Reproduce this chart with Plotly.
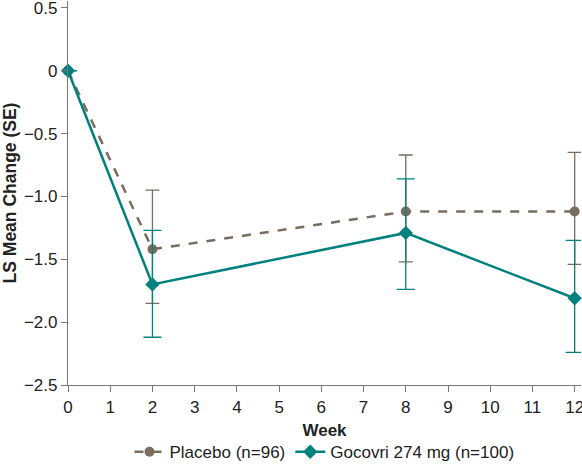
import plotly.graph_objects as go

weeks = [0, 2, 8, 12]
placebo = [0, -1.42, -1.12, -1.12]
placebo_err_plus = [None, 0.47, 0.45, 0.47]
placebo_err_minus = [None, 0.43, 0.40, 0.42]
gocovri = [0, -1.70, -1.29, -1.81]
gocovri_err_plus = [None, 0.43, 0.43, 0.46]
gocovri_err_minus = [None, 0.42, 0.45, 0.43]
y_tickvals = [0.5, 0, -0.5, -1.0, -1.5, -2.0, -2.5]
y_ticktext = ["0.5", "0", "\u22120.5", "\u22121.0", "\u22121.5", "\u22122.0", "\u22122.5"]
x_tickvals = list(range(0, 13))

PLACEBO_C = "#7a6c5f"
GOC_C = "#00817e"
FONT = "Liberation Sans, Arial, Helvetica, sans-serif"

fig = go.Figure()
fig.add_trace(go.Scatter(
    x=weeks, y=placebo, name="Placebo (n=96)", mode="lines+markers",
    line=dict(color=PLACEBO_C, width=2.5, dash="dash"),
    marker=dict(symbol="circle", size=10, color=PLACEBO_C),
    error_y=dict(type="data", symmetric=False, array=placebo_err_plus,
                 arrayminus=placebo_err_minus, color=PLACEBO_C, thickness=1.3, width=7),
    cliponaxis=False,
))
fig.add_trace(go.Scatter(
    x=weeks, y=gocovri, name="Gocovri 274 mg (n=100)", mode="lines+markers",
    line=dict(color=GOC_C, width=2.5),
    marker=dict(symbol="diamond", size=11, color=GOC_C),
    error_y=dict(type="data", symmetric=False, array=gocovri_err_plus,
                 arrayminus=gocovri_err_minus, color=GOC_C, thickness=1.3, width=9),
    cliponaxis=False,
))

fig.update_layout(
    width=582, height=466,
    margin=dict(l=68, r=1, t=1, b=81, autoexpand=False),
    paper_bgcolor="white", plot_bgcolor="white",
    font=dict(family=FONT, size=17, color="#222222"),
    showlegend=True,
    legend=dict(orientation="h", x=0.5, xanchor="center", y=-0.175, yanchor="middle",
                font=dict(size=17), tracegroupgap=0),
)
fig.update_xaxes(
    range=[0, 12.15], tickvals=x_tickvals, showgrid=False, zeroline=False,
    showline=True, linecolor="#777777", linewidth=1.3, automargin=False,
    ticks="outside", ticklen=6, tickcolor="#777777", ticklabeloverflow="allow",
    tickfont=dict(size=17),
    title=dict(text="<b>Week</b>", font=dict(size=17), standoff=8),
)
fig.update_yaxes(
    range=[-2.5, 0.555], tickvals=y_tickvals, ticktext=y_ticktext,
    showgrid=False, zeroline=False, automargin=False,
    showline=True, linecolor="#777777", linewidth=1.3,
    ticks="outside", ticklen=6, tickcolor="#777777", ticklabeloverflow="allow",
    tickfont=dict(size=17),
    title=dict(text="<b>LS Mean Change (SE)</b>", font=dict(size=17.5), standoff=8),
)

fig.write_html(
    "out.html",
    config={"displayModeBar": False},
    post_script="document.body.style.margin='0';document.body.style.overflow='hidden';",
)
